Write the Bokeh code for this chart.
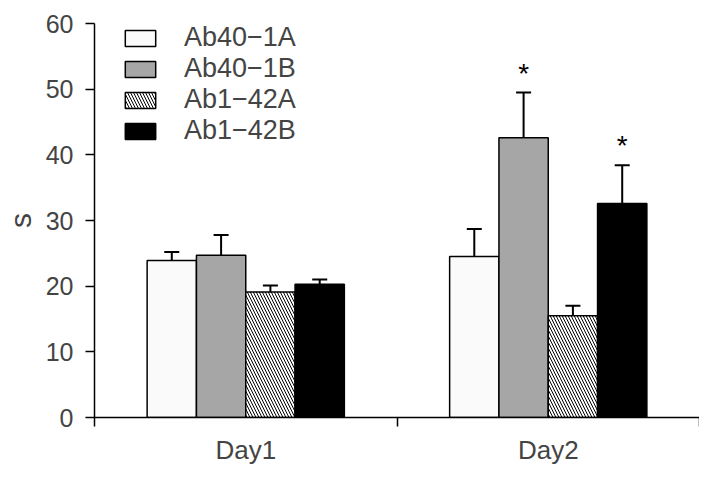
from bokeh.plotting import figure
from bokeh.models import (Range1d, FixedTicker, Whisker, ColumnDataSource,
                          Legend, LegendItem, TeeHead)
from bokeh.core.properties import value
from bokeh.embed import file_html
from bokeh.resources import INLINE

# ---- data -------------------------------------------------------------
days = ["Day1", "Day2"]
series = ["Ab40\u22121A", "Ab40\u22121B", "Ab1\u221242A", "Ab1\u221242B"]

ab40_1a = [23.9, 24.5]
ab40_1b = [24.7, 42.6]
ab1_42a = [19.1, 15.5]
ab1_42b = [20.3, 32.6]

sem_40_1a = [1.3, 4.2]
sem_40_1b = [3.1, 6.9]
sem_1_42a = [1.0, 1.5]
sem_1_42b = [0.7, 5.8]

marks_40_1a = ["", ""]
marks_40_1b = ["", "*"]
marks_1_42a = ["", ""]
marks_1_42b = ["", "*"]

y_ticks = [0, 10, 20, 30, 40, 50, 60]

# ---- styles -----------------------------------------------------------
FONT = "Liberation Sans"
styles = [
    dict(fill_color="#fafafa"),
    dict(fill_color="#a6a6a6"),
    dict(fill_color="white", hatch_pattern="\\", hatch_color="black",
         hatch_scale=6, hatch_weight=1),
    dict(fill_color="black"),
]
means = [ab40_1a, ab40_1b, ab1_42a, ab1_42b]
sems = [sem_40_1a, sem_40_1b, sem_1_42a, sem_1_42b]
marks = [marks_40_1a, marks_40_1b, marks_1_42a, marks_1_42b]

BAR_W = 0.163
STAR_GAP = 2.95
centers = [i + 0.5 for i in range(len(days))]

p = figure(width=699, height=467, output_backend="svg", toolbar_location=None,
           x_range=Range1d(0, len(days)), y_range=Range1d(0, 60),
           min_border_left=86, min_border_right=0, min_border_top=23,
           min_border_bottom=40)
p.outline_line_color = None
p.xgrid.visible = False
p.ygrid.visible = False
p.background_fill_color = "white"

items = []
for k, (name, m, s, mk, st) in enumerate(zip(series, means, sems, marks, styles)):
    off = (k - 1.5) * BAR_W
    xs = [c + off for c in centers]
    src = ColumnDataSource(dict(x=xs, top=m, upper=[a + b for a, b in zip(m, s)],
                                star_y=[a + b + STAR_GAP for a, b in zip(m, s)], mark=mk))
    r = p.vbar(x="x", top="top", width=BAR_W, bottom=0, source=src,
               line_color="black", line_width=1.5, **st)
    items.append(LegendItem(label=name, renderers=[r]))
    w = Whisker(base="x", lower="top", upper="upper", source=src,
                line_color="black", line_width=2, lower_head=None,
                upper_head=TeeHead(size=15, line_width=2, line_color="black"))
    p.add_layout(w)
    p.text(x="x", y="star_y", text="mark", source=src, text_align="center",
           text_baseline="alphabetic", text_font=value(FONT), text_font_size="28px",
           text_color="black")

legend = Legend(items=items, location=(27, 271), glyph_width=38, glyph_height=20,
                label_height=20, label_standoff=25, spacing=0, padding=0, margin=0,
                label_text_font=FONT, label_text_font_size="27px",
                border_line_color=None, background_fill_alpha=0)
p.add_layout(legend)

# y axis
p.yaxis.ticker = FixedTicker(ticks=y_ticks)
p.yaxis.major_tick_in = 0
p.yaxis.major_tick_out = 9
p.yaxis.minor_tick_line_color = None
p.yaxis.major_label_text_font = FONT
p.yaxis.major_label_text_font_size = "25px"
p.yaxis.major_label_standoff = 12
p.yaxis.axis_label = "s"
p.yaxis.axis_label_text_font = FONT
p.yaxis.axis_label_text_font_size = "30px"
p.yaxis.axis_label_text_font_style = "normal"
p.yaxis.axis_label_standoff = 6
p.yaxis.axis_line_width = 1.5
p.yaxis.major_tick_line_width = 1.5

# x axis: labels at centres, ticks at boundaries
p.xaxis.ticker = FixedTicker(ticks=centers, minor_ticks=list(range(len(days) + 1)))
p.xaxis.major_label_overrides = {c: d for c, d in zip(centers, days)}
p.xaxis.major_tick_line_color = None
p.xaxis.major_tick_in = 0
p.xaxis.major_tick_out = 0
p.xaxis.minor_tick_in = 0
p.xaxis.minor_tick_out = 9
p.xaxis.minor_tick_line_color = "black"
p.xaxis.minor_tick_line_width = 1.5
p.xaxis.axis_line_width = 1.5
p.xaxis.major_label_text_font = FONT
p.xaxis.major_label_text_font_size = "26px"
p.xaxis.major_label_standoff = 8

open("out.html", "w").write(file_html(p, INLINE))
